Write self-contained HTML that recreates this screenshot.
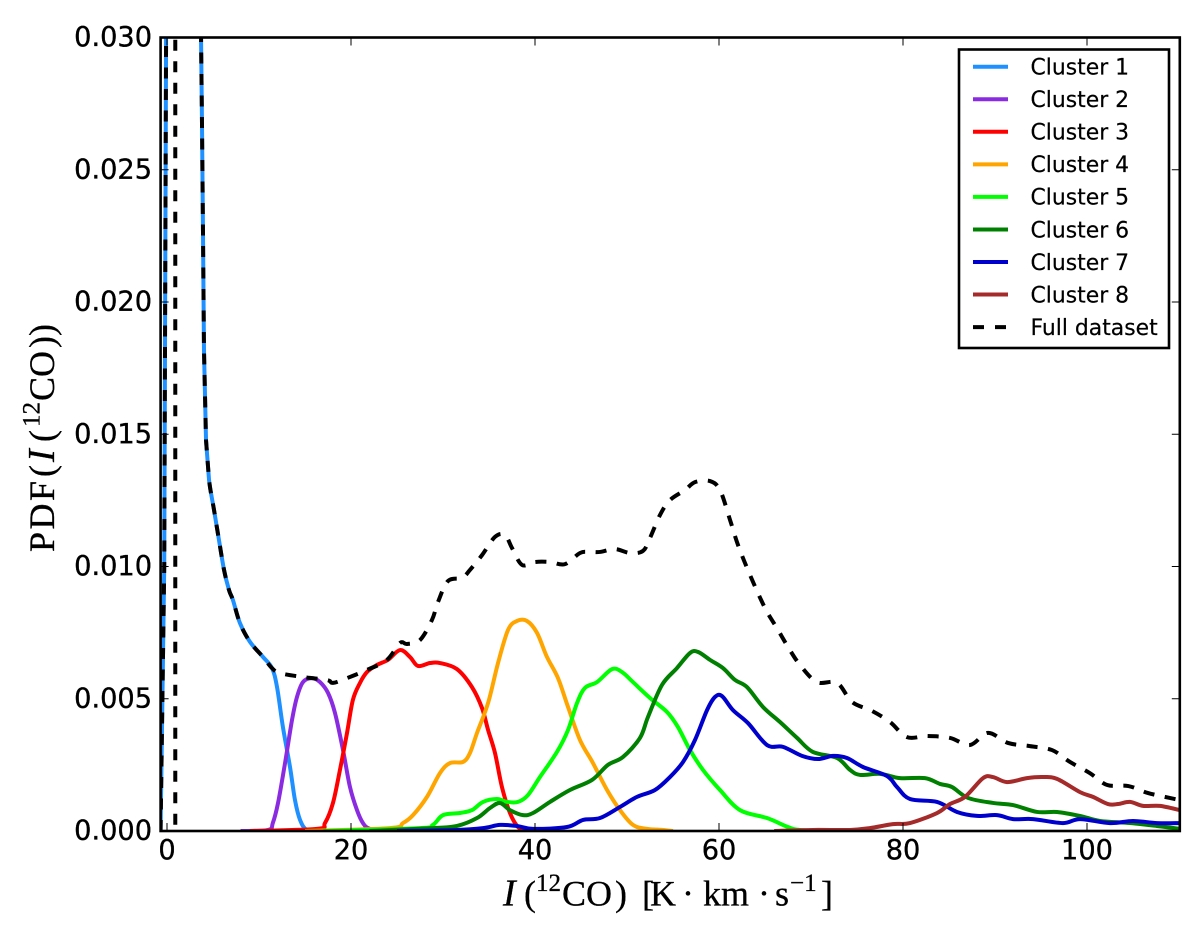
<!DOCTYPE html>
<html>
<head>
<meta charset="utf-8">
<title>PDF of I(12CO) by cluster</title>
<style>
html,body{margin:0;padding:0;background:#fff;width:1200px;height:938px;overflow:hidden}
svg{display:block}
.tick-label{font-family:"DejaVu Sans","Liberation Sans",sans-serif;font-size:27.2px;fill:#000;stroke:#000;stroke-width:.35}
.legend-label{font-family:"DejaVu Sans","Liberation Sans",sans-serif;font-size:21.9px;fill:#000;stroke:#000;stroke-width:.2}
.axis-title{font-family:"Liberation Serif",serif;font-size:36px;fill:#000;stroke:#000;stroke-width:.3}
</style>
</head>
<body>
<svg id="chart" xmlns="http://www.w3.org/2000/svg" width="1200" height="938" viewBox="0 0 1200 938">
  <defs><clipPath id="plot-clip"><rect x="160.6" y="37.5" width="1019.2" height="793.5"/></clipPath></defs>
  <rect x="0" y="0" width="1200" height="938" fill="#fff"/>
  <g id="series-layer" clip-path="url(#plot-clip)"></g>
  <g id="tick-layer"></g>
  <rect x="160.6" y="37.5" width="1019.2" height="793.5" fill="none" stroke="#000" stroke-width="2.6"/>
  <text class="axis-title" y="905.5"><tspan x="503" font-style="italic" font-size="38">I</tspan><tspan x="524">(</tspan><tspan x="536" font-size="25" dy="-14.5">12</tspan><tspan x="562" dy="14.5">CO</tspan><tspan x="615">)</tspan><tspan x="642">[</tspan><tspan x="650">K</tspan><tspan x="682">·</tspan><tspan x="703">km</tspan><tspan x="758">·</tspan><tspan x="775">s</tspan><tspan x="790" font-size="25" dy="-14.5">−1</tspan><tspan x="821" dy="14.5">]</tspan></text>
  <text class="axis-title" transform="translate(54,552) rotate(-90)" y="0"><tspan x="0" letter-spacing="2.5">PDF</tspan><tspan x="75">(</tspan><tspan x="90" font-style="italic" font-size="38">I</tspan><tspan x="110">(</tspan><tspan x="125" font-size="25" dy="-14.5">12</tspan><tspan x="151" dy="14.5">CO</tspan><tspan x="204">))</tspan></text>
  <g id="legend"></g>
</svg>
<script>
var xTicks = [0, 20, 40, 60, 80, 100];
var yTicks = [0, 0.005, 0.010, 0.015, 0.020, 0.025, 0.030];
var yTickLabels = ["0.000", "0.005", "0.010", "0.015", "0.020", "0.025", "0.030"];

var cluster1X = [-0.7,-0.55,-0.3,0,3.6,3.7,3.8,3.91,4.02,4.24,4.57,5.11,5.65,6.2,6.74,7.17,7.93,9.02,10.43,11.41,11.96,12.6,13.37,13.91,14.46,15.2,16.6];
var cluster1Y = [0,0.0037,0.0100,0.0400,0.0400,0.0300,0.02688,0.02272,0.01819,0.01478,0.01327,0.01214,0.0110,0.00987,0.00911,0.00873,0.00786,0.00715,0.00658,0.00616,0.00544,0.00393,0.00242,0.00117,0.00042,0.00004,0];

var cluster2X = [8,11,11.5,12.07,12.83,13.59,14.13,14.78,15.76,16.63,17.5,18.26,19.13,19.89,20.65,21.3,22.07,24];
var cluster2Y = [0,0.00004,0.0003,0.00106,0.00257,0.0042,0.00507,0.00563,0.00578,0.00563,0.00522,0.00446,0.00306,0.00166,0.00079,0.0003,0.00008,0];

var cluster3X = [9,16.3,17.17,18.04,18.8,19.57,20.2,20.98,21.74,22.83,24.02,25.33,26.41,27.28,28.59,29.67,31.52,33.15,34.24,34.9,35.65,36.41,37.28,38.15,38.9,40];
var cluster3Y = [0,0.00008,0.0003,0.00106,0.00231,0.00371,0.00495,0.0056,0.00601,0.00628,0.00647,0.00684,0.00658,0.00624,0.00635,0.00635,0.00612,0.00544,0.00465,0.00382,0.00295,0.00166,0.00068,0.00015,0.00004,0];

var cluster4X = [15,24.24,25.65,26.74,28.26,29.67,30.76,32.17,32.93,33.7,34.9,35.98,37.07,38.04,39.13,40.22,41.3,42.5,43.59,44.89,46.3,47.83,49.24,50.65,52.17,53.9,55];
var cluster4Y = [0,0.00011,0.0003,0.0006,0.00129,0.00219,0.00257,0.00261,0.00295,0.00371,0.00484,0.00635,0.0076,0.00794,0.00794,0.00749,0.00658,0.00578,0.00469,0.00344,0.00257,0.00155,0.00079,0.00023,0.00008,0.00004,0];

var cluster5X = [17,27.5,28.9,30,31.85,33.15,34.35,35.87,36.96,38.15,39.24,40.54,42.39,43.59,44.57,45.43,46.74,48.37,49.46,50.65,52.5,54.35,55.54,56.85,58.26,60.11,62.28,65.22,67.5,68.8,72];
var cluster5Y = [0,0.00011,0.00023,0.0006,0.00068,0.00079,0.0011,0.00121,0.0011,0.0011,0.00136,0.00204,0.00299,0.00382,0.00484,0.00541,0.00563,0.00612,0.00601,0.00563,0.00503,0.0045,0.00393,0.00306,0.00231,0.00155,0.00079,0.00049,0.00015,0.00004,0];

var cluster6X = [22,28.9,31.52,33.7,35.11,36.2,37.28,38.7,39.78,41.63,43.8,46.2,47.93,49.57,51.41,52.28,53.8,55.43,56.85,57.72,59.02,60.43,61.74,63.04,64.78,66.63,68.48,70.2,72.83,74.24,75.33,77.5,79.67,82.39,84.02,85.33,87.07,89.78,91.96,94.57,96.74,99.24,101.41,104.67,107.6,110.1];
var cluster6Y = [0,0.00011,0.00019,0.00049,0.00087,0.00106,0.00079,0.0006,0.00068,0.0011,0.00155,0.00193,0.0025,0.0028,0.00352,0.00431,0.00552,0.00616,0.00673,0.00677,0.00647,0.00616,0.00571,0.00544,0.00469,0.00412,0.00352,0.00299,0.00276,0.00231,0.00212,0.00216,0.002,0.002,0.00178,0.00166,0.00125,0.00106,0.00098,0.00072,0.00072,0.00057,0.00038,0.0003,0.00019,0.00008];

var cluster7X = [25,31.52,34.35,36.2,38.04,39.78,43.48,45.22,47.07,49.24,51.09,53.04,54.67,56.09,57.39,58.7,59.57,60.33,61.52,63.15,65.22,66.96,69.02,70.76,72.39,73.91,75.65,78.26,79.35,80.76,83.7,85.87,88.04,90.22,91.96,94.13,97.39,99.24,102.5,105,107.6,110.1];
var cluster7Y = [0,0.00004,0.00011,0.00023,0.00019,0.00008,0.00015,0.00042,0.00049,0.00091,0.00129,0.00155,0.00204,0.00261,0.00344,0.00457,0.00507,0.0051,0.00457,0.00408,0.00325,0.00318,0.00284,0.00272,0.00284,0.00276,0.00242,0.00208,0.00166,0.00121,0.0011,0.00072,0.00057,0.0006,0.00045,0.00045,0.0003,0.00045,0.0003,0.00038,0.0003,0.0003];

var cluster8X = [66,70.2,74.24,76.4,78.9,80.76,83.7,85.11,86.74,88.7,89.78,91.3,93.48,95.22,96.74,99.24,100.65,102.28,103.37,104.67,106.09,107.93,110.1];
var cluster8Y = [0,0.00004,0.00004,0.00011,0.00026,0.0003,0.00068,0.00102,0.00129,0.002,0.00204,0.00185,0.002,0.00204,0.00197,0.00147,0.00129,0.00102,0.00102,0.0011,0.00095,0.00095,0.00079];

var fullX = [-0.7,-0.55,-0.3,0,0.9,0.9,null,3.6,3.7,3.8,3.91,4.02,4.24,4.57,5.11,5.65,6.2,6.74,7.17,7.93,9.02,10.43,11.41,12.28,14.78,17.39,18.04,19.57,21.74,23.91,25.33,26.09,27.5,28.8,29.46,30.54,32.07,32.93,34.24,35.65,36.74,37.5,38.59,40,41.63,43.26,44.89,45.98,47.07,48.7,50.33,51.74,52.5,53.59,54.67,56.3,57.39,59.02,60.11,61.2,62.07,63.37,65,66.3,67.5,68.8,70.65,72.83,74.46,76.63,78.59,80.43,82.61,85.11,87.28,89.24,91.41,93.8,96.2,98.15,100.3,102.2,104.5,106.6,109,110.1];
var fullY = [0,0.0037,0.0100,0.0400,0.0400,0,null,0.0400,0.0300,0.02688,0.02272,0.01819,0.01478,0.01327,0.01214,0.0110,0.00987,0.00911,0.00873,0.00786,0.00715,0.00658,0.00616,0.00597,0.00582,0.00571,0.0056,0.00578,0.00609,0.00647,0.00711,0.00707,0.00722,0.00798,0.00866,0.00945,0.00957,0.00987,0.01043,0.01112,0.01119,0.0107,0.01006,0.01017,0.01017,0.01009,0.01051,0.01055,0.01055,0.01066,0.01051,0.01059,0.01108,0.01195,0.01251,0.01289,0.01319,0.01323,0.01289,0.01176,0.01081,0.00968,0.00843,0.00767,0.00696,0.00628,0.00563,0.0056,0.00488,0.00454,0.00412,0.00355,0.00359,0.00352,0.00325,0.00371,0.00333,0.00321,0.00306,0.00261,0.00219,0.00174,0.0017,0.00144,0.00125,0.00117];

var seriesNames = ["Cluster 1","Cluster 2","Cluster 3","Cluster 4","Cluster 5","Cluster 6","Cluster 7","Cluster 8","Full dataset"];
var seriesColors = ["#1e90ff","#8a2be2","#ff0000","#ffa500","#00ff00","#008000","#0000cd","#a52a2a","#000000"];
var seriesXs = [cluster1X,cluster2X,cluster3X,cluster4X,cluster5X,cluster6X,cluster7X,cluster8X,fullX];
var seriesYs = [cluster1Y,cluster2Y,cluster3Y,cluster4Y,cluster5Y,cluster6Y,cluster7Y,cluster8Y,fullY];

var NS = "http://www.w3.org/2000/svg";
function sx(v){ return 167 + 9.2 * v; }
function sy(v){ return 831 - 26450 * v; }
function make(tag, parent){
  var el = document.createElementNS(NS, tag);
  parent.appendChild(el);
  return el;
}
/* Smooth runs of points with a Catmull-Rom curve; very steep jumps stay straight. */
function buildPath(xs, ys){
  var d = "", runs = [], run = [];
  for (var i = 0; i < xs.length; i++){
    if (xs[i] === null || ys[i] === null){ if (run.length) runs.push(run); run = []; continue; }
    run.push([sx(xs[i]), sy(ys[i])]);
  }
  if (run.length) runs.push(run);
  runs.forEach(function(pts){
    d += "M" + pts[0][0].toFixed(2) + " " + pts[0][1].toFixed(2);
    for (var k = 0; k < pts.length - 1; k++){
      var p0 = pts[Math.max(k - 1, 0)], p1 = pts[k], p2 = pts[k + 1], p3 = pts[Math.min(k + 2, pts.length - 1)];
      var steep = Math.abs(p2[1] - p1[1]) > 60 || Math.abs(p1[1] - p0[1]) > 60 || Math.abs(p3[1] - p2[1]) > 60;
      if (steep){
        d += "L" + p2[0].toFixed(2) + " " + p2[1].toFixed(2);
      } else {
        d += "C" + (p1[0] + (p2[0] - p0[0]) / 6).toFixed(2) + " " + (p1[1] + (p2[1] - p0[1]) / 6).toFixed(2) + " " +
             (p2[0] - (p3[0] - p1[0]) / 6).toFixed(2) + " " + (p2[1] - (p3[1] - p1[1]) / 6).toFixed(2) + " " +
             p2[0].toFixed(2) + " " + p2[1].toFixed(2);
      }
    }
  });
  return d;
}

var seriesLayer = document.getElementById("series-layer");
seriesNames.forEach(function(name, i){
  var p = make("path", seriesLayer);
  
  
  p.setAttribute("d", buildPath(seriesXs[i], seriesYs[i]));
  p.setAttribute("fill", "none");
  p.setAttribute("stroke", seriesColors[i]);
  p.setAttribute("stroke-width", "4");
  p.setAttribute("stroke-linejoin", "round");
  if (i === 8) p.setAttribute("stroke-dasharray", "11 10.5");
});

var tickLayer = document.getElementById("tick-layer");
xTicks.forEach(function(v){
  var x = sx(v);
  var bottom = make("line", tickLayer);
  
  
  bottom.setAttribute("x1", x); bottom.setAttribute("x2", x);
  bottom.setAttribute("y1", 831); bottom.setAttribute("y2", 823);
  bottom.setAttribute("stroke", "#000"); bottom.setAttribute("stroke-width", "1");
  var top = make("line", tickLayer);
  
  
  top.setAttribute("x1", x); top.setAttribute("x2", x);
  top.setAttribute("y1", 37.5); top.setAttribute("y2", 45.5);
  top.setAttribute("stroke", "#000"); top.setAttribute("stroke-width", "1");
  var t = make("text", tickLayer);
  
  
  t.setAttribute("class", "tick-label");
  t.setAttribute("x", x); t.setAttribute("y", 859);
  t.setAttribute("text-anchor", "middle");
  t.textContent = String(v);
});
yTicks.forEach(function(v, i){
  var y = sy(v);
  var left = make("line", tickLayer);
  
  
  left.setAttribute("x1", 160.6); left.setAttribute("x2", 168.6);
  left.setAttribute("y1", y); left.setAttribute("y2", y);
  left.setAttribute("stroke", "#000"); left.setAttribute("stroke-width", "1");
  var right = make("line", tickLayer);
  
  
  right.setAttribute("x1", 1179.8); right.setAttribute("x2", 1171.8);
  right.setAttribute("y1", y); right.setAttribute("y2", y);
  right.setAttribute("stroke", "#000"); right.setAttribute("stroke-width", "1");
  var t = make("text", tickLayer);
  
  
  t.setAttribute("class", "tick-label");
  t.setAttribute("x", 152); t.setAttribute("y", y + 8.6);
  t.setAttribute("text-anchor", "end");
  t.textContent = yTickLabels[i];
});

var legend = document.getElementById("legend");
var box = make("rect", legend);


box.setAttribute("x", 959); box.setAttribute("y", 49.5);
box.setAttribute("width", 210); box.setAttribute("height", 298.5);
box.setAttribute("fill", "#fff"); box.setAttribute("stroke", "#000"); box.setAttribute("stroke-width", "2.6");
seriesNames.forEach(function(name, i){
  var y = 66.7 + 32.55 * i;
  var sw = make("line", legend);
  
  
  sw.setAttribute("x1", 973); sw.setAttribute("x2", 1008);
  sw.setAttribute("y1", y); sw.setAttribute("y2", y);
  sw.setAttribute("stroke", seriesColors[i]); sw.setAttribute("stroke-width", "4");
  if (i === 8) sw.setAttribute("stroke-dasharray", "11 11");
  var t = make("text", legend);
  
  
  t.setAttribute("class", "legend-label");
  t.setAttribute("x", 1030.5); t.setAttribute("y", y + 7.8);
  t.textContent = name;
});
</script>
</body>
</html>
